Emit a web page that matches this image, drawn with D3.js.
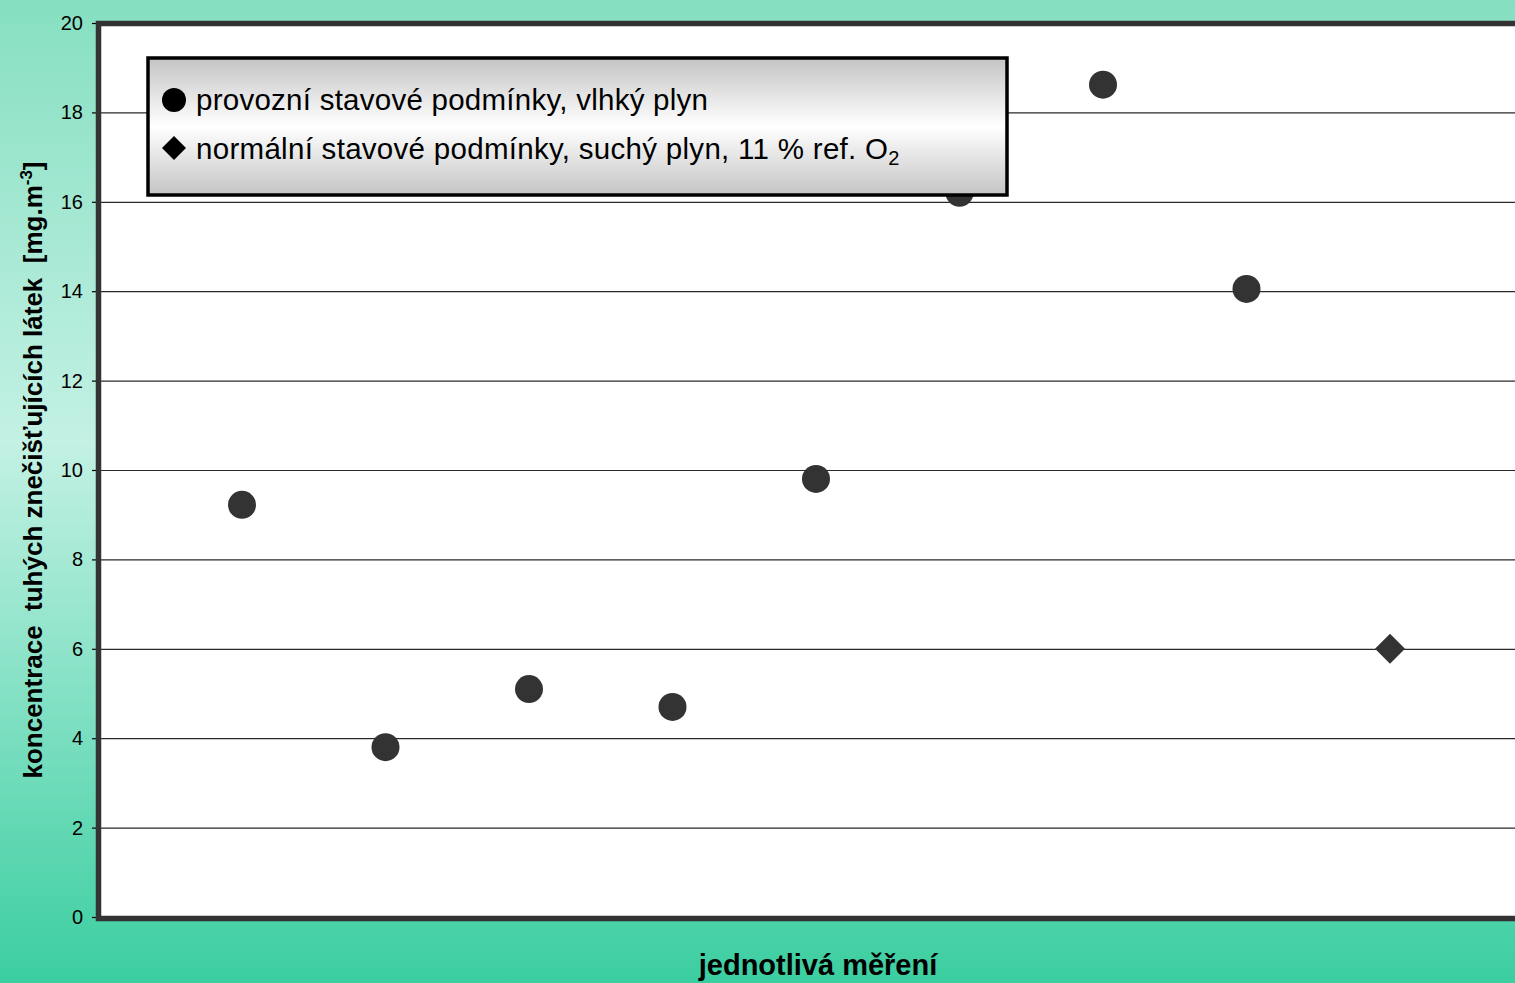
<!DOCTYPE html>
<html>
<head>
<meta charset="utf-8">
<script src="https://cdn.jsdelivr.net/npm/d3@7"></script>
<style>
  html, body { margin: 0; padding: 0; overflow: hidden; }
  svg { display: block; font-family: "Liberation Sans", Arial, sans-serif; }
</style>
</head>
<body>
<svg id="chart" width="1515" height="983"></svg>
<script>
// Measurement index and concentration values
const measurementsWet = [1, 2, 3, 4, 5, 6, 7, 8];
const valuesWet = [9.22, 3.80, 5.10, 4.70, 9.80, 16.2, 18.62, 14.05];
const measurementsDry = [9];
const valuesDry = [6.0];
const yTicks = [0, 2, 4, 6, 8, 10, 12, 14, 16, 18, 20];
const legendLabels = ["provozní stavové podmínky, vlhký plyn", "normální stavové podmínky, suchý plyn, 11 % ref. O"];

const W = 1515, H = 983;
const svg = d3.select("#chart");
const defs = svg.append("defs");

// Page background: vertical mint gradient
const bg = defs.append("linearGradient").attr("id", "bgGrad")
  .attr("x1", 0).attr("y1", 0).attr("x2", 0).attr("y2", 1);
bg.append("stop").attr("offset", "0%").attr("stop-color", "#86dfc1");
bg.append("stop").attr("offset", "45%").attr("stop-color", "#c3f1e4");
bg.append("stop").attr("offset", "100%").attr("stop-color", "#3bcea0");
svg.append("rect").attr("width", W).attr("height", H).attr("fill", "url(#bgGrad)");

// Legend fill: grey-white-grey
const lg = defs.append("linearGradient").attr("id", "legGrad")
  .attr("x1", 0).attr("y1", 0).attr("x2", 0).attr("y2", 1);
lg.append("stop").attr("offset", "0%").attr("stop-color", "#c4c4c4");
lg.append("stop").attr("offset", "50%").attr("stop-color", "#ffffff");
lg.append("stop").attr("offset", "100%").attr("stop-color", "#c4c4c4");

const plot = { left: 99, top: 24, right: 1534, bottom: 918 };
const x = d3.scaleLinear().domain([0, 10]).range([98.5, 1533.5]);
const y = d3.scaleLinear().domain([0, 20]).range([plot.bottom - 1, plot.top - 1]);

// Plot area
svg.append("rect")
  .attr("x", plot.left).attr("y", plot.top)
  .attr("width", plot.right - plot.left).attr("height", plot.bottom - plot.top)
  .attr("fill", "#ffffff");

// Gridlines
svg.append("g").selectAll("line").data(yTicks.filter(d => d > 0 && d < 20)).join("line")
  .attr("x1", plot.left).attr("x2", W)
  .attr("y1", d => y(d) + 0.5).attr("y2", d => y(d) + 0.5)
  .attr("stroke", "#2a2a2a").attr("stroke-width", 1.2);

// Y axis
const yAxis = d3.axisLeft(y).tickValues(yTicks).tickSize(5).tickPadding(9).tickFormat(d3.format("d"));
const ya = svg.append("g").attr("transform", `translate(${plot.left - 2},0)`).call(yAxis);
ya.select(".domain").remove();
ya.selectAll(".tick line").attr("stroke", "#000").attr("stroke-width", 1.2);
ya.selectAll(".tick text").attr("font-size", 20).attr("fill", "#000")
  .attr("font-family", "Liberation Sans, Arial, sans-serif");

// Frame (top, left, bottom)
svg.append("path")
  .attr("d", `M${W + 5},${plot.top - 0.5} H${plot.left - 0.5} V${plot.bottom + 0.5} H${W + 5}`)
  .attr("fill", "none").attr("stroke", "#333333").attr("stroke-width", 5.5);

// Data marks
svg.append("g").selectAll("circle").data(measurementsWet.map((m, i) => [m, valuesWet[i]])).join("circle")
  .attr("cx", d => x(d[0])).attr("cy", d => y(d[1])).attr("r", 14)
  .attr("fill", "#333333");

const diamond = s => `M0,${-s} L${s},0 L0,${s} L${-s},0 Z`;
svg.append("g").selectAll("path").data(measurementsDry.map((m, i) => [m, valuesDry[i]])).join("path")
  .attr("transform", d => `translate(${x(d[0])},${y(d[1])})`)
  .attr("d", diamond(15)).attr("fill", "#333333");

// Legend
const leg = svg.append("g");
leg.append("rect").attr("x", 148).attr("y", 58).attr("width", 859).attr("height", 137)
  .attr("fill", "url(#legGrad)").attr("stroke", "#000").attr("stroke-width", 3.5);
leg.append("circle").attr("cx", 174).attr("cy", 100).attr("r", 12).attr("fill", "#000");
leg.append("path").attr("transform", "translate(174,148)").attr("d", diamond(12)).attr("fill", "#000");
leg.append("text").attr("x", 196).attr("y", 110).attr("font-size", 29.5).attr("fill", "#000")
  .attr("textLength", 512).attr("lengthAdjust", "spacing")
  .text(legendLabels[0]);
const t2 = leg.append("text").attr("x", 196).attr("y", 159).attr("font-size", 29.5).attr("fill", "#000");
t2.append("tspan").attr("textLength", 692).attr("lengthAdjust", "spacing").text(legendLabels[1]);
t2.append("tspan").attr("font-size", 20).attr("dy", 6).text("2");

// Axis titles
svg.append("text").attr("x", 818).attr("y", 975).attr("text-anchor", "middle")
  .attr("font-size", 29).attr("font-weight", "bold").attr("fill", "#000")
  .text("jednotlivá měření");

const yt = svg.append("text").attr("transform", "translate(42,470) rotate(-90)")
  .attr("text-anchor", "middle").attr("font-size", 26).attr("font-weight", "bold").attr("fill", "#000")
  .attr("xml:space", "preserve");
yt.append("tspan").text("koncentrace  tuhých znečišťujících látek  [mg.m");
yt.append("tspan").attr("font-size", 17).attr("dy", -10).text("-3");
yt.append("tspan").attr("dy", 10).text("]");
</script>
</body>
</html>
